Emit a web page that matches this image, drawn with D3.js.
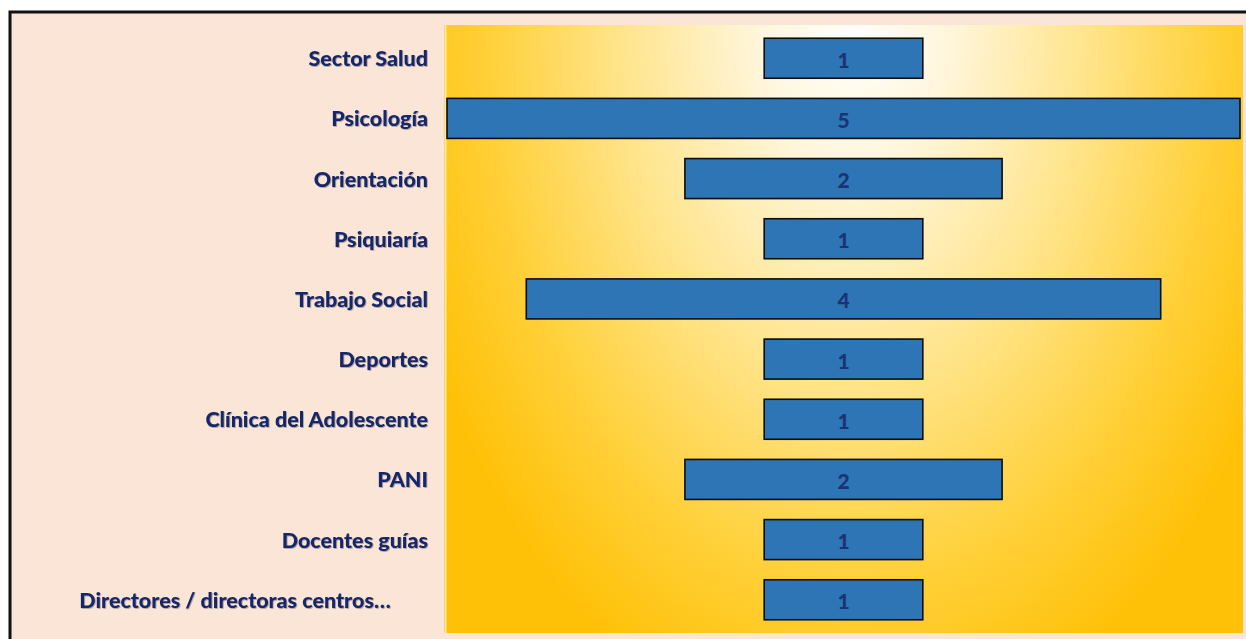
<!DOCTYPE html>
<html>
<head>
<meta charset="utf-8">
<script src="https://cdn.jsdelivr.net/npm/d3@7/dist/d3.min.js"></script>
<style>
  html, body { margin: 0; padding: 0; background: #ffffff; }
  svg { display: block; }
</style>
</head>
<body>
<svg id="chart" width="1246" height="639"></svg>
<script>
// Categories (top to bottom) and their counts
const categories = [
  "Sector Salud",
  "Psicología",
  "Orientación",
  "Psiquiaría",
  "Trabajo Social",
  "Deportes",
  "Clínica del Adolescente",
  "PANI",
  "Docentes guías",
  "Directores / directoras centros…"
];
const values = [1, 5, 2, 1, 4, 1, 1, 2, 1, 1];
const maxValue = 5;

const svg = d3.select("#chart");
const W = 1246, H = 639;

// Outer chart frame
svg.append("rect")
  .attr("x", 10).attr("y", 12)
  .attr("width", W + 20).attr("height", H + 20)
  .attr("fill", "#FBE5D6")
  .attr("stroke", "#111111")
  .attr("stroke-width", 3);

const plot = { x0: 444, x1: 1243, y0: 25, y1: 633 };
const cx = (plot.x0 + plot.x1) / 2 + 10;

// Plot area: path-style gradient, pale at the top centre, gold toward the corners
const defs = svg.append("defs");
const grad = defs.append("radialGradient")
  .attr("id", "plotFill")
  .attr("gradientUnits", "userSpaceOnUse")
  .attr("cx", 0).attr("cy", 0).attr("fx", 0).attr("fy", 0)
  .attr("r", 1)
  .attr("gradientTransform", `translate(${cx},${plot.y0}) scale(470,720)`);
grad.append("stop").attr("offset", 0).attr("stop-color", "#FFFEFA");
grad.append("stop").attr("offset", 0.2).attr("stop-color", "#FFF6DC");
grad.append("stop").attr("offset", 0.5).attr("stop-color", "#FFE48A");
grad.append("stop").attr("offset", 0.78).attr("stop-color", "#FFD038");
grad.append("stop").attr("offset", 1).attr("stop-color", "#FFC108");

const shadow = defs.append("filter").attr("id", "txtShadow")
  .attr("x", "-5%").attr("y", "-20%").attr("width", "110%").attr("height", "140%");
shadow.append("feDropShadow")
  .attr("dx", 0.8).attr("dy", 0.8).attr("stdDeviation", 0.6)
  .attr("flood-color", "#000000").attr("flood-opacity", 0.35);

svg.append("rect")
  .attr("x", plot.x0).attr("y", plot.y0)
  .attr("width", plot.x1 - plot.x0).attr("height", plot.y1 - plot.y0)
  .attr("fill", "url(#plotFill)");

svg.append("line")
  .attr("x1", plot.x0 + 1.5).attr("x2", plot.x0 + 1.5)
  .attr("y1", plot.y0).attr("y2", plot.y1)
  .attr("stroke", "#FFEBA6").attr("stroke-width", 2);

// Scales
const y = d3.scaleBand()
  .domain(categories)
  .range([28, 630])
  .paddingInner(0.335)
  .paddingOuter(0.17);

const x = d3.scaleLinear()
  .domain([-maxValue / 2, maxValue / 2])
  .range([447, 1240]);

const data = categories.map((c, i) => ({ cat: c, v: values[i] }));

// Centered bars (funnel layout)
svg.append("g").selectAll("rect")
  .data(data)
  .join("rect")
  .attr("x", d => x(-d.v / 2))
  .attr("y", d => y(d.cat))
  .attr("width", d => x(d.v / 2) - x(-d.v / 2))
  .attr("height", y.bandwidth())
  .attr("fill", "#2E75B6")
  .attr("stroke", "#0D0D0D")
  .attr("stroke-width", 1.6);

// Value labels
svg.append("g").selectAll("text")
  .data(data)
  .join("text")
  .attr("x", x(0))
  .attr("y", d => y(d.cat) + y.bandwidth() / 2 + 1)
  .attr("text-anchor", "middle")
  .attr("dominant-baseline", "central")
  .attr("font-family", "Lato, 'Open Sans', sans-serif")
  .attr("font-weight", 900)
  .attr("font-size", 21)
  .attr("fill", "#1B3375")
  .text(d => d.v);

// Category labels
svg.append("g").attr("filter", "url(#txtShadow)").selectAll("text")
  .data(data)
  .join("text")
  .attr("x", d => d.cat.endsWith("…") ? 235 : 428)
  .attr("y", d => y(d.cat) + y.bandwidth() / 2)
  .attr("text-anchor", d => d.cat.endsWith("…") ? "middle" : "end")
  .attr("dominant-baseline", "central")
  .attr("font-family", "Lato, 'Open Sans', sans-serif")
  .attr("font-weight", 900)
  .attr("font-size", 21.5)
  .attr("fill", "#17276A")
  .text(d => d.cat);
</script>
</body>
</html>
